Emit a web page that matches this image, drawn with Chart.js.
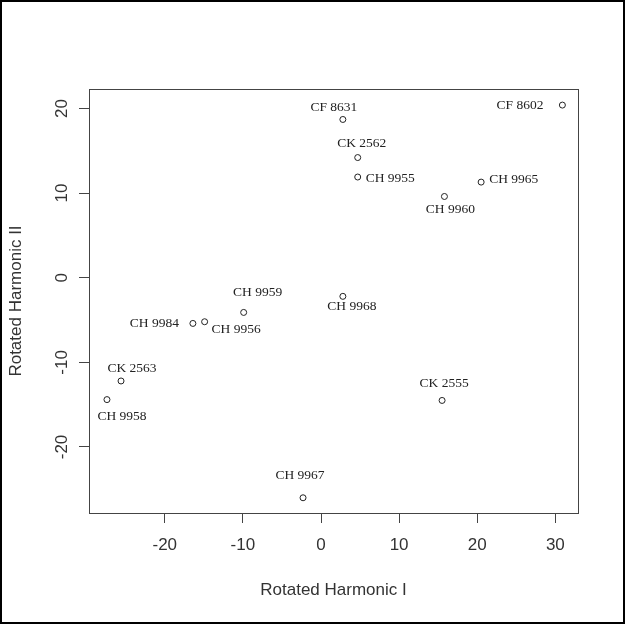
<!DOCTYPE html>
<html>
<head>
<meta charset="utf-8">
<script src="https://cdn.jsdelivr.net/npm/chart.js@4.4.0/dist/chart.umd.min.js"></script>
<style>
  html, body { margin: 0; padding: 0; background: #fff; }
  #wrap { width: 625px; height: 624px; }
</style>
</head>
<body>
<div id="wrap"><canvas id="c" width="625" height="624"></canvas></div>
<script>
// ---- data ----
const pointLabels = ['CF 8602','CF 8631','CK 2562','CH 9955','CH 9965','CH 9960','CH 9968',
                     'CH 9959','CH 9984','CH 9956','CK 2563','CH 9958','CK 2555','CH 9967'];
const harmonicI  = [30.9, 2.8, 4.7, 4.7, 20.5, 15.8, 2.8, -9.9, -16.4, -14.9, -25.6, -27.4, 15.5, -2.3];
const harmonicII = [20.4, 18.7, 14.2, 11.9, 11.3, 9.6, -2.2, -4.1, -5.4, -5.2, -12.2, -14.4, -14.5, -26.0];
const xTickValues = [-20, -10, 0, 10, 20, 30];
const yTickValues = [-20, -10, 0, 10, 20];
const xTitle = 'Rotated Harmonic I';
const yTitle = 'Rotated Harmonic II';

// ---- label placement (style only: pixel offsets from each point) ----
const labelPlacement = [
  {dx:-19, dy:0,   align:'right'},
  {dx:-9,  dy:-12, align:'center'},
  {dx:4,   dy:-14, align:'center'},
  {dx:8,   dy:1,   align:'left'},
  {dx:8,   dy:-3,  align:'left'},
  {dx:6,   dy:13,  align:'center'},
  {dx:9,   dy:10,  align:'center'},
  {dx:14,  dy:-20, align:'center'},
  {dx:-14, dy:0,   align:'right'},
  {dx:7,   dy:8,   align:'left'},
  {dx:11,  dy:-13, align:'center'},
  {dx:15,  dy:17,  align:'center'},
  {dx:2,   dy:-17, align:'center'},
  {dx:-3,  dy:-22, align:'center'}
];

const points = harmonicI.map((x, i) => ({x: x, y: harmonicII[i]}));
const axisFont = '17px "Liberation Sans", Arial, sans-serif';
const axisColor = '#333';

const decor = {
  id: 'decor',
  afterDraw(chart) {
    const ctx = chart.ctx;
    const a = chart.chartArea;
    const xs = chart.scales.x, ys = chart.scales.y;
    ctx.save();
    // plot box
    ctx.strokeStyle = '#444';
    ctx.lineWidth = 1;
    ctx.strokeRect(Math.round(a.left) + 0.5, Math.round(a.top) + 0.5,
                   Math.round(a.right - a.left), Math.round(a.bottom - a.top));
    // tick labels
    ctx.fillStyle = axisColor;
    ctx.font = axisFont;
    ctx.textAlign = 'center';
    ctx.textBaseline = 'middle';
    xs.ticks.forEach(t => {
      ctx.fillText(String(t.value), xs.getPixelForValue(t.value), 545);
    });
    ys.ticks.forEach(t => {
      ctx.save();
      ctx.translate(62, ys.getPixelForValue(t.value));
      ctx.rotate(-Math.PI / 2);
      ctx.fillText(String(t.value), 0, 0);
      ctx.restore();
    });
    // axis titles
    ctx.fillText(xTitle, (a.left + a.right) / 2, 590);
    ctx.save();
    ctx.translate(16, (a.top + a.bottom) / 2);
    ctx.rotate(-Math.PI / 2);
    ctx.fillText(yTitle, 0, 0);
    ctx.restore();
    // point labels
    ctx.font = '13.5px "Liberation Serif", "Times New Roman", serif';
    ctx.fillStyle = '#222';
    const meta = chart.getDatasetMeta(0);
    meta.data.forEach((el, i) => {
      const p = labelPlacement[i];
      ctx.textAlign = p.align;
      ctx.fillText(pointLabels[i], el.x + p.dx, el.y + p.dy);
    });
    // outer frame
    ctx.strokeStyle = '#000';
    ctx.lineWidth = 2;
    ctx.strokeRect(1, 1, chart.width - 2, chart.height - 2);
    ctx.restore();
  }
};

new Chart(document.getElementById('c'), {
  type: 'scatter',
  data: {
    datasets: [{
      data: points,
      pointStyle: 'circle',
      pointRadius: 3,
      pointHoverRadius: 3,
      backgroundColor: 'rgba(0,0,0,0)',
      borderColor: '#222',
      borderWidth: 1
    }]
  },
  options: {
    responsive: false,
    animation: false,
    events: [],
    layout: { padding: { left: 0, top: 89, right: 47, bottom: 0 } },
    plugins: { legend: { display: false }, tooltip: { enabled: false } },
    scales: {
      x: {
        type: 'linear',
        min: -29.7, max: 32.9,
        afterBuildTicks: s => { s.ticks = xTickValues.map(v => ({value: v})); },
        afterFit: s => { s.height = 111; },
        ticks: { display: false },
        border: { display: false },
        grid: { drawOnChartArea: false, drawTicks: true, tickLength: 10, tickColor: '#444', lineWidth: 1 }
      },
      y: {
        type: 'linear',
        min: -27.8, max: 22.3,
        afterBuildTicks: s => { s.ticks = yTickValues.map(v => ({value: v})); },
        afterFit: s => { s.width = 89; },
        ticks: { display: false },
        border: { display: false },
        grid: { drawOnChartArea: false, drawTicks: true, tickLength: 10, tickColor: '#444', lineWidth: 1 }
      }
    }
  },
  plugins: [decor]
});
</script>
</body>
</html>
